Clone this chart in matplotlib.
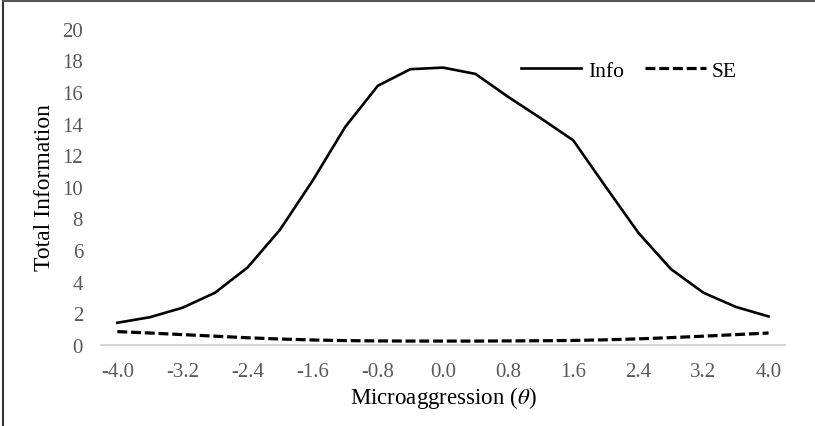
import matplotlib
matplotlib.use("Agg")
import matplotlib.pyplot as plt
from matplotlib.lines import Line2D

plt.rcParams['font.family'] = ['Liberation Serif', 'DejaVu Serif']
plt.rcParams['mathtext.fontset'] = 'stix'

# theta grid (category axis, every 0.4)
theta = ['-4.0', '-3.6', '-3.2', '-2.8', '-2.4', '-2.0', '-1.6', '-1.2', '-0.8', '-0.4', '0.0',
         '0.4', '0.8', '1.2', '1.6', '2.0', '2.4', '2.8', '3.2', '3.6', '4.0']
info = [1.4, 1.75, 2.35, 3.3, 4.9, 7.3, 10.4, 13.8, 16.4, 17.45, 17.55,
        17.15, 15.7, 14.35, 12.95, 10.0, 7.1, 4.8, 3.3, 2.4, 1.8]
se = [0.84, 0.75, 0.65, 0.55, 0.45, 0.37, 0.31, 0.27, 0.25, 0.24, 0.24,
      0.24, 0.25, 0.26, 0.28, 0.32, 0.38, 0.46, 0.55, 0.65, 0.75]
y_ticks = [0, 2, 4, 6, 8, 10, 12, 14, 16, 18, 20]

fig = plt.figure(figsize=(8.15, 4.27), dpi=100)
ax = fig.add_axes([0.124, 0.190, 0.839, 0.740])

x = range(len(theta))
ax.plot(x, info, color='black', lw=1.9, label='Info')
ax.plot(x, se, color='black', lw=2.3, ls=(0, (3.1, 1.2)), label='SE')

ax.set_xlim(-0.5, len(theta) - 0.5)
ax.set_ylim(0, 20)
ax.set_yticks(y_ticks)
ax.set_xticks(list(x)[::2])
ax.set_xticklabels(theta[::2])

for side in ['top', 'right', 'left']:
    ax.spines[side].set_visible(False)
ax.spines['bottom'].set_color('#d0d0d0')
ax.spines['bottom'].set_linewidth(1.2)
ax.tick_params(length=0, labelsize=15, labelcolor='#595959')
ax.tick_params(axis='x', pad=12)
ax.tick_params(axis='y', pad=13)

ax.set_xlabel(r'Microaggression ($\theta$)', fontsize=16.5, va='center')
ax.xaxis.set_label_coords(0.5, -0.165)
ax.set_ylabel('Total Information', fontsize=17, va='center')
ax.yaxis.set_label_coords(-0.083, 0.5)

ax.legend(loc='center right', bbox_to_anchor=(0.93, 0.867), ncol=2, frameon=False,
          fontsize=15.5, handlelength=2.8, handletextpad=0.3, columnspacing=1.0,
          borderaxespad=0, borderpad=0)

# outer frame: only top and left edges are visible in the original
fig.add_artist(Line2D([0.004, 0.004], [0, 0.996], transform=fig.transFigure, color='#333333', lw=1.5))
fig.add_artist(Line2D([0.004, 1], [0.996, 0.996], transform=fig.transFigure, color='#555555', lw=1.5))

fig.savefig('out.png', dpi=100)
